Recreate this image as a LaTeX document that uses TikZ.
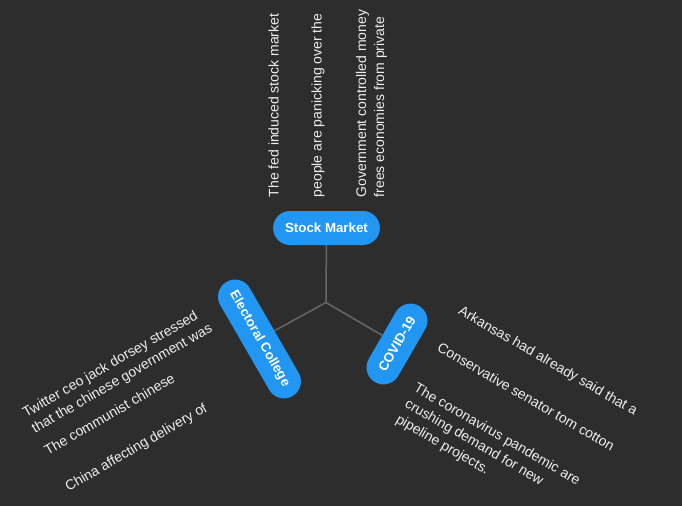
\documentclass[tikz,border=0pt]{standalone}
\usepackage{fontspec}
\setmainfont{Liberation Sans}
\definecolor{bgcol}{HTML}{2D2D2D}
\definecolor{pillcol}{HTML}{2196F3}
\definecolor{linecol}{HTML}{666666}
\definecolor{txtcol}{HTML}{EEEEEE}
\tikzset{
  pill/.style={fill=pillcol, text=white, font=\fontsize{13.3}{16}\selectfont\bfseries,
    rounded corners=17pt, minimum height=34pt, inner xsep=12pt, inner ysep=0pt},
  conn/.style={draw=linecol, line width=1.5pt},
  leaf/.style={text=txtcol, font=\fontsize{14}{18}\selectfont, inner sep=0pt, align=left, anchor=base west}
}
\begin{document}
\begin{tikzpicture}[x=1pt,y=-1pt]
\fill[bgcol] (0,0) rectangle (682,506);
\useasboundingbox (0,0) rectangle (682,506);
\coordinate (c) at (326,302.5);
\node[pill] (sm) at (326.5,228) {Stock Market};
\node[pill, rotate=-60] (ec) at (259.5,339) {Electoral College};
\node[pill, rotate=60, minimum width=88pt] (cv) at (397,344) {COVID-19};
\draw[conn] (c) -- (sm);
\draw[conn] (c) -- (ec);
\draw[conn] (c) -- (cv);
% Stock Market leaves (base anchor = last line's baseline)
\node[leaf, rotate=90] (s1) at (278.5,197.5) {The fed induced stock market};
\node[leaf, rotate=90] (s2) at (321.7,197.5) {people are panicking over the};
\node[leaf, rotate=90] (s3) at (384,197.5) {Government controlled money\\frees economies from private};
% Electoral College leaves
\node[leaf, rotate=30] (e1) at (35,433.6) {Twitter ceo jack dorsey stressed\\that the chinese government was};
\node[leaf, rotate=30] (e2) at (47.7,455.5) {The communist chinese};
\node[leaf, rotate=30] (e3) at (68.5,491.6) {China affecting delivery of};
% COVID-19 leaves
\node[leaf, rotate=-30] (v1) at (457.4,313.7) {Arkansas had already said that a};
\node[leaf, rotate=-30] (v2) at (436.1,350.5) {Conservative senator tom cotton};
\node[leaf, rotate=-30] (v3) at (394.9,422) {The coronavirus pandemic are\\crushing demand for new\\pipeline projects.};
\end{tikzpicture}
\end{document}
